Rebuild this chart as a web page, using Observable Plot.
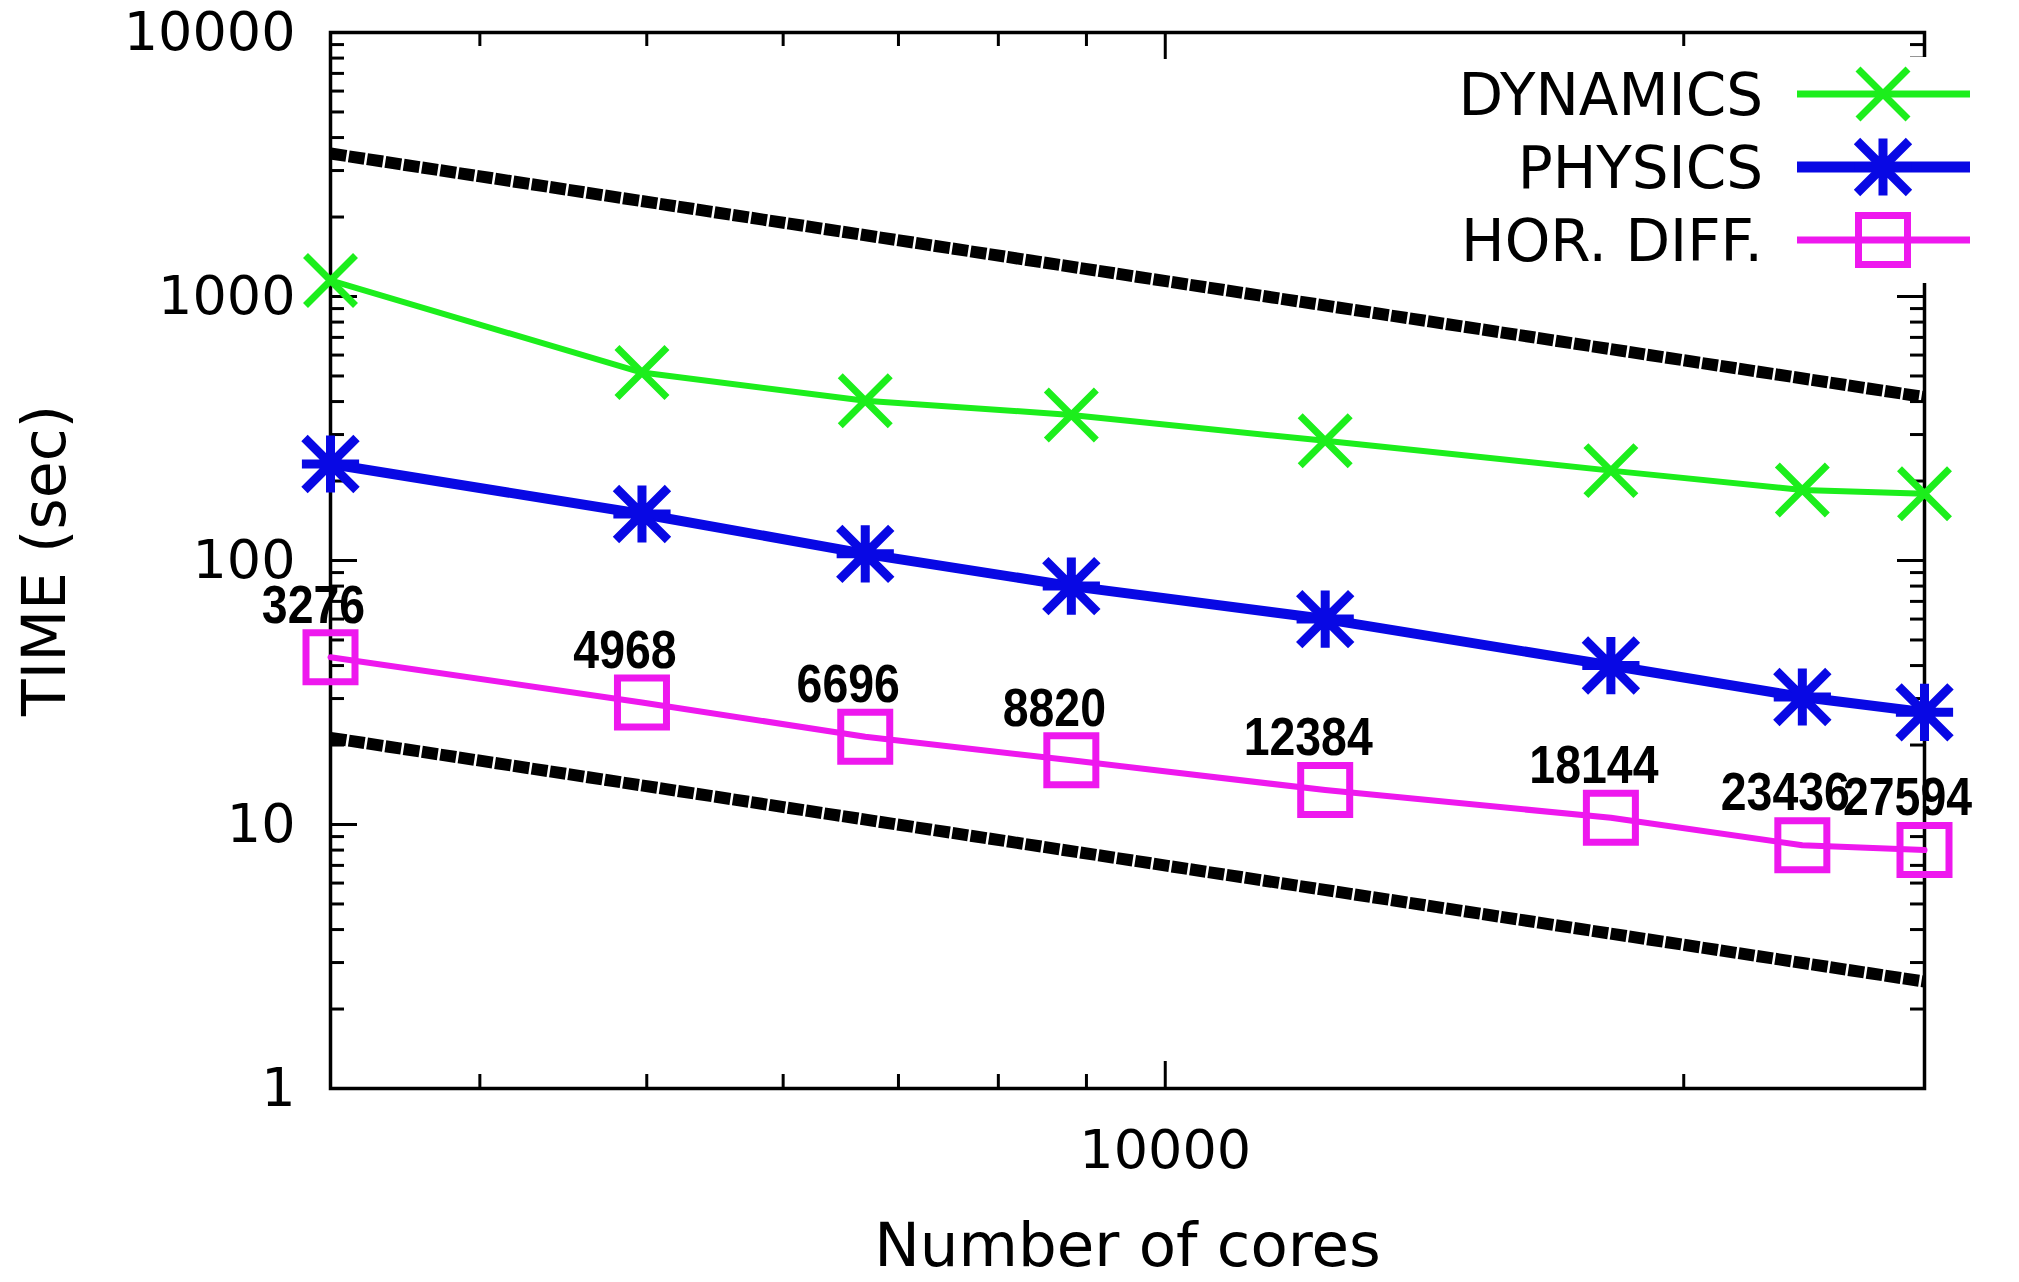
<!DOCTYPE html>
<html>
<head>
<meta charset="utf-8">
<script src="https://cdn.jsdelivr.net/npm/d3@7"></script>
<script src="https://cdn.jsdelivr.net/npm/@observablehq/plot@0.6"></script>
<style>
  html, body { margin: 0; padding: 0; background: #fff; }
  #chart { width: 2019px; height: 1282px; }
</style>
</head>
<body>
<div id="chart"></div>
<script>
// ---- data ----
const cores = [3276, 4968, 6696, 8820, 12384, 18144, 23436, 27594];
const dynamics = [1150, 515, 403, 356, 284, 219, 185, 179];
const physics = [232, 150, 106, 80, 60, 40, 30.4, 26.6];
const horDiff = [43, 29, 21.5, 17.5, 13.5, 10.6, 8.35, 8.0];
const seriesNames = ["DYNAMICS", "PHYSICS", "HOR. DIFF."];
// ideal-scaling reference lines (end points)
const idealCores = [3276, 27594];
const idealUpper = [3480, 416];
const idealLower = [21.3, 2.54];
// axis tick labels
const yTickLabels = [1, 10, 100, 1000, 10000];
const xTickLabels = [10000];
const xMinorTicks = [4000, 5000, 6000, 7000, 8000, 9000, 20000];

// ---- layout ----
const W = 2019, H = 1282;
const mL = 330, mR = 95, mT = 32, mB = 194;
const pW = W - mL - mR, pH = H - mT - mB;
const font = "DejaVu Sans, Verdana, sans-serif";
const colors = {"DYNAMICS": "#1cee1c", "PHYSICS": "#0808e4", "HOR. DIFF.": "#ee18ee"};

// custom symbols
const symTimes = {draw(ctx, size) { const r = Math.sqrt(size / Math.PI);
  ctx.moveTo(-r, -r); ctx.lineTo(r, r); ctx.moveTo(-r, r); ctx.lineTo(r, -r); }};
const symStar = {draw(ctx, size) { const r = Math.sqrt(size / Math.PI);
  ctx.moveTo(-r, -r); ctx.lineTo(r, r); ctx.moveTo(-r, r); ctx.lineTo(r, -r);
  ctx.moveTo(0, -r * 1.1); ctx.lineTo(0, r * 1.1); ctx.moveTo(-r * 1.1, 0); ctx.lineTo(r * 1.1, 0); }};
const symSquare = {draw(ctx, size) { const r = Math.sqrt(size / Math.PI);
  ctx.moveTo(-r, -r); ctx.lineTo(r, -r); ctx.lineTo(r, r); ctx.lineTo(-r, r); ctx.closePath(); }};

const style = {
  "DYNAMICS": {lw: 6, sym: symTimes, r: 25, sw: 7},
  "PHYSICS": {lw: 10, sym: symStar, r: 26, sw: 9},
  "HOR. DIFF.": {lw: 6, sym: symSquare, r: 24.5, sw: 7}
};

const valuesBy = {"DYNAMICS": dynamics, "PHYSICS": physics, "HOR. DIFF.": horDiff};
const rows = seriesNames.flatMap(name => cores.map((c, i) => ({name, cores: c, time: valuesBy[name][i]})));
const ideal = [
  ...idealCores.map((c, i) => ({line: "upper", cores: c, time: idealUpper[i]})),
  ...idealCores.map((c, i) => ({line: "lower", cores: c, time: idealLower[i]}))
];

const yAll = d3.scaleLog().domain([1, 10000]).ticks();
const yMinor = yAll.filter(v => !yTickLabels.includes(v));

const marks = [
  Plot.frame({stroke: "black", strokeWidth: 3.5}),
  // y ticks (inward, both sides)
  Plot.tickY(yTickLabels, {y: d => d, insetRight: pW - 27, stroke: "black", strokeWidth: 3}),
  Plot.tickY(yMinor, {y: d => d, insetRight: pW - 14, stroke: "black", strokeWidth: 3}),
  Plot.tickY(yTickLabels, {y: d => d, insetLeft: pW - 27, stroke: "black", strokeWidth: 3}),
  Plot.tickY(yMinor, {y: d => d, insetLeft: pW - 14, stroke: "black", strokeWidth: 3}),
  // x ticks (inward, bottom and top)
  Plot.tickX(xTickLabels, {x: d => d, insetTop: pH - 27, stroke: "black", strokeWidth: 3}),
  Plot.tickX(xMinorTicks, {x: d => d, insetTop: pH - 14, stroke: "black", strokeWidth: 3}),
  Plot.tickX(xTickLabels, {x: d => d, insetBottom: pH - 27, stroke: "black", strokeWidth: 3}),
  Plot.tickX(xMinorTicks, {x: d => d, insetBottom: pH - 14, stroke: "black", strokeWidth: 3}),
  // tick labels
  Plot.text(yTickLabels, {y: d => d, text: d => String(d), frameAnchor: "left", dx: -35, textAnchor: "end",
    lineAnchor: "middle", fontSize: 54, fill: "black"}),
  Plot.text(xTickLabels, {x: d => d, text: d => String(d), frameAnchor: "bottom", dy: 62,
    textAnchor: "middle", lineAnchor: "middle", fontSize: 54, fill: "black"}),
  // axis titles
  Plot.text(["TIME (sec)"], {frameAnchor: "left", dx: -285, rotate: -90, textAnchor: "middle",
    lineAnchor: "middle", fontSize: 60, fill: "black"}),
  Plot.text(["Number of cores"], {frameAnchor: "bottom", dy: 158, textAnchor: "middle",
    lineAnchor: "middle", fontSize: 61, fill: "black"}),
  // ideal scaling lines
  Plot.line(ideal, {x: "cores", y: "time", z: "line", stroke: "black", strokeWidth: 12,
    strokeDasharray: "16,2.5", strokeLinecap: "butt"}),
];
for (const name of seriesNames) {
  const st = style[name];
  const data = rows.filter(d => d.name === name);
  marks.push(Plot.line(data, {x: "cores", y: "time", stroke: colors[name], strokeWidth: st.lw}));
  marks.push(Plot.dot(data, {x: "cores", y: "time", symbol: st.sym, r: st.r, fill: "none",
    stroke: colors[name], strokeWidth: st.sw, strokeLinecap: "butt"}));
}
// core-count labels
marks.push(Plot.text(rows.filter(d => d.name === "HOR. DIFF."), {x: "cores", y: "time",
  text: d => String(d.cores), dx: -17, dy: -52, fontSize: 54, fontWeight: "bold",
  fontFamily: "Liberation Sans, Arial, sans-serif", fill: "black", stroke: null}));

const plot = Plot.plot({
  width: W, height: H,
  marginLeft: mL, marginRight: mR, marginTop: mT, marginBottom: mB,
  style: {fontFamily: font, background: "white", overflow: "visible"},
  x: {type: "log", domain: [3276, 27594], axis: null},
  y: {type: "log", domain: [1, 10000], axis: null},
  marks
});
document.getElementById("chart").appendChild(plot);

// condense the bold core-count labels horizontally (narrow bold face in the reference)
const coreStrings = cores.map(String);
d3.select(plot).selectAll("text").each(function () {
  const el = d3.select(this);
  if (el.attr("font-weight") === "bold" || this.closest("g[font-weight='bold']")) {
    const t = el.attr("transform");
    if (t && coreStrings.includes(this.textContent)) el.attr("transform", t + " scale(0.86,1)");
  }
});

// ---- legend (inside top-right, opaque box) ----
const svg = d3.select(plot);
const lg = svg.append("g");
lg.append("rect").attr("x", 1450).attr("y", 57).attr("width", 530).attr("height", 226).attr("fill", "white");
const rowY = [94, 167, 240];
seriesNames.forEach((name, i) => {
  const st = style[name];
  const y = rowY[i];
  lg.append("text").attr("x", 1763).attr("y", y).attr("dy", "0.36em").attr("text-anchor", "end")
    .attr("font-family", font).attr("font-size", 58).attr("fill", "black").text(name);
  lg.append("line").attr("x1", 1797).attr("x2", 1970).attr("y1", y).attr("y2", y)
    .attr("stroke", colors[name]).attr("stroke-width", st.lw + 1);
  lg.append("path").attr("transform", `translate(1883,${y})`)
    .attr("d", d3.symbol(st.sym, Math.PI * st.r * st.r)())
    .attr("fill", "none").attr("stroke", colors[name]).attr("stroke-width", st.sw);
});
</script>
</body>
</html>
